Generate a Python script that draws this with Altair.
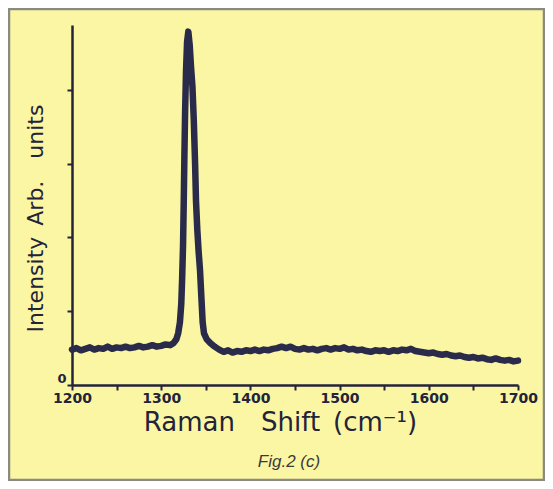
import altair as alt
import pandas as pd

# Raman spectrum (shift in cm^-1, intensity in arb. units)
shift = [
    1200, 1205, 1210, 1215, 1220, 1225, 1230, 1235, 1240, 1245,
    1250, 1255, 1260, 1265, 1270, 1275, 1280, 1285, 1290, 1295,
    1300, 1305, 1310, 1314, 1317, 1319, 1321, 1322.5, 1323.5, 1324.5,
    1325.3, 1326, 1326.8, 1327.8, 1329, 1330.4, 1332, 1333.5, 1335, 1336.5,
    1338, 1339, 1340.5, 1342, 1343.5, 1345, 1346.5, 1348, 1351, 1355,
    1360, 1365, 1370, 1375, 1380, 1385, 1390, 1395, 1400, 1405,
    1410, 1415, 1420, 1425, 1430, 1435, 1440, 1445, 1450, 1455,
    1460, 1465, 1470, 1475, 1480, 1485, 1490, 1495, 1500, 1505,
    1510, 1515, 1520, 1525, 1530, 1535, 1540, 1545, 1550, 1555,
    1560, 1565, 1570, 1575, 1580, 1585, 1590, 1595, 1600, 1605,
    1610, 1615, 1620, 1625, 1630, 1635, 1640, 1645, 1650, 1655,
    1660, 1665, 1670, 1675, 1680, 1685, 1690, 1695, 1700,
]
intensity = [
    0.48, 0.50, 0.47, 0.49, 0.51, 0.48, 0.50, 0.49, 0.52, 0.49,
    0.51, 0.50, 0.52, 0.50, 0.51, 0.53, 0.51, 0.52, 0.54, 0.52,
    0.53, 0.55, 0.54, 0.57, 0.62, 0.70, 0.85, 1.10, 1.45, 1.90,
    2.50, 3.10, 3.70, 4.25, 4.65, 4.79, 4.60, 4.30, 4.05, 3.60,
    3.00, 2.50, 2.10, 1.80, 1.56, 1.20, 0.85, 0.70, 0.62, 0.57,
    0.52, 0.48, 0.45, 0.47, 0.44, 0.46, 0.45, 0.47, 0.46, 0.48,
    0.46, 0.48, 0.47, 0.49, 0.50, 0.52, 0.50, 0.52, 0.49, 0.48,
    0.50, 0.48, 0.49, 0.47, 0.49, 0.50, 0.48, 0.50, 0.49, 0.51,
    0.48, 0.49, 0.47, 0.48, 0.46, 0.45, 0.47, 0.46, 0.47, 0.45,
    0.47, 0.46, 0.48, 0.47, 0.49, 0.46, 0.45, 0.44, 0.43, 0.44,
    0.42, 0.41, 0.42, 0.40, 0.39, 0.40, 0.38, 0.37, 0.38, 0.36,
    0.37, 0.35, 0.34, 0.36, 0.34, 0.33, 0.34, 0.32, 0.33,
]

x_ticks = [1200, 1250, 1300, 1350, 1400, 1450, 1500, 1550, 1600, 1650, 1700]
y_ticks = [0, 1, 2, 3, 4]
x_title = "Raman\u2003Shift\u2002(cm\u207b\u00b9)"
y_title = "Intensity\u2002Arb.\u2003units"
caption = "Fig.2 (c)"

df = pd.DataFrame({"shift": shift, "intensity": intensity})

W, H = 446, 360
INK = "#23233a"
BG = "#fbf6a3"

frame = alt.Chart(alt.Data(values=[{}])).mark_rect(
    fillOpacity=0, stroke="#8a8a80", strokeWidth=2.5
).encode(
    x=alt.value(-63), x2=alt.value(W + 26),
    y=alt.value(-16), y2=alt.value(H + 95),
)

line = alt.Chart(df).mark_line(
    color="#2a2a4a", strokeWidth=6.5, strokeJoin="round", strokeCap="round"
).encode(
    x=alt.X(
        "shift:Q",
        scale=alt.Scale(domain=[1200, 1700], nice=False, zero=False),
        axis=alt.Axis(
            values=x_ticks, format="d",
            labelExpr="datum.value % 100 == 0 ? datum.label : ''",
            labelFlush=False, labelOverlap=False,
            labelFont="DejaVu Sans", labelFontWeight="bold", labelFontSize=14,
            labelColor=INK, labelPadding=1,
            tickSize=5, tickWidth=2, tickColor=INK,
            domainColor=INK, domainWidth=2.5, grid=False,
            title=x_title, titleFont="DejaVu Sans", titleFontSize=26,
            titleFontWeight="normal", titleColor=INK,
            titleX=208, titleY=45, titleAlign="center", titleBaseline="alphabetic",
        ),
    ),
    y=alt.Y(
        "intensity:Q",
        scale=alt.Scale(domain=[0, 4.88], nice=False),
        axis=alt.Axis(
            values=y_ticks,
            labelExpr="datum.value == 0 ? '0' : ''",
            labelFont="DejaVu Sans", labelFontWeight="bold", labelFontSize=13,
            labelColor=INK, labelPadding=1, labelBaseline="bottom",
            tickSize=5, tickWidth=2, tickColor=INK,
            domainColor=INK, domainWidth=2.5, grid=False,
            title=y_title, titleFont="DejaVu Sans", titleFontSize=22,
            titleFontWeight="normal", titleColor=INK, titleAngle=-90,
            titleX=-30, titleY=193, titleAlign="center", titleBaseline="alphabetic",
        ),
    ),
)

cap = alt.Chart(alt.Data(values=[{}])).mark_text(
    text=caption, font="Liberation Sans", fontStyle="italic",
    fontSize=17, color="#3a3a3a", align="center", baseline="alphabetic",
).encode(x=alt.value(217), y=alt.value(442))

chart = alt.layer(frame, line, cap).properties(
    width=W, height=H,
    autosize=alt.AutoSizeParams(type="none"),
    padding={"left": 64, "top": 17, "right": 27, "bottom": 96},
    background=BG,
).configure_view(stroke=None)

chart.save("out.html", embed_options={"renderer": "svg", "actions": False})
